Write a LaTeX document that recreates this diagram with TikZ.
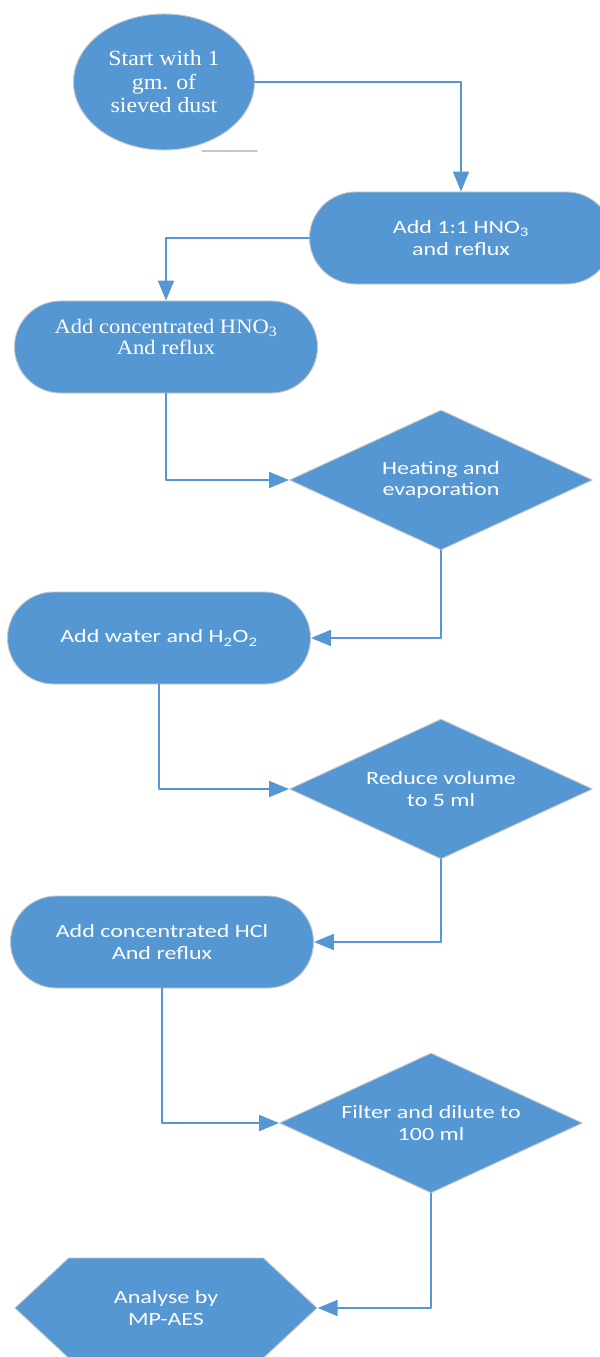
\documentclass[tikz,border=0pt]{standalone}
\usepackage{fontspec}
\usepackage{xcolor}
\usepackage{tikz}
\usetikzlibrary{arrows.meta}
\usetikzlibrary{shapes.geometric,shapes.misc,shapes.symbols}
\newfontfamily\boxsans[FakeStretch=1.28]{Carlito}
\newfontfamily\boxserif[FakeStretch=1.1]{Liberation Serif}
\definecolor{ffblue}{rgb}{0.329,0.592,0.827}
\definecolor{ccgray}{rgb}{0.78,0.78,0.78}
\tikzstyle{every node}=[text=white,align=center,inner sep=0pt]
\tikzstyle{flowbox}=[fill=ffblue,draw=ccgray,line width=0.8pt]
\tikzstyle{startnode}=[flowbox,ellipse,minimum width=5.43cm,minimum height=4.08cm,font=\boxserif\fontsize{18.5}{20}\selectfont]
\tikzstyle{stepbox}=[flowbox,rounded rectangle,minimum width=9.09cm,minimum height=2.76cm,font=\boxsans\fontsize{16}{18.5}\selectfont]
\tikzstyle{decision}=[flowbox,diamond,aspect=2.16,minimum width=9.09cm,minimum height=4.2cm,font=\boxsans\fontsize{16}{18.5}\selectfont]
\tikzstyle{endnode}=[flowbox,signal,signal from=nowhere,signal to=west and east,signal pointer angle=86,minimum width=9.06cm,minimum height=3cm,font=\boxsans\fontsize{16}{18.5}\selectfont]
\tikzstyle{flowline}=[->,line width=2pt,color=ffblue]

\begin{document}
\begin{tikzpicture}[line cap=round,line join=round,>={Triangle[length=17pt,width=13.5pt]},x=0.03cm,y=-0.03cm]
    \useasboundingbox (0,0) rectangle (600,1357);
    % nodes
    \node[startnode] (start) at (164,82) {Start with 1\\gm. of\\sieved dust};
    \draw[ccgray,line width=1pt] (202,151) -- (257,151);
    \node[stepbox] (addhno) at (461,238) {Add 1:1 HNO\textsubscript{3}\\and reflux};
    \node[stepbox,font=\boxserif\fontsize{17.5}{18}\selectfont] (conchno) at (166,347) {Add concentrated HNO\textsubscript{3}\\And reflux\\\mbox{}};
    \node[decision] (heat) at (441,480) {Heating and\\evaporation};
    \node[stepbox] (water) at (159,638) {Add water and H\textsubscript{2}O\textsubscript{2}};
    \node[decision] (reduce) at (441,789) {Reduce volume\\to 5 ml};
    \node[stepbox] (conchcl) at (162,942) {Add concentrated HCl\\And reflux};
    \node[decision] (filter) at (431,1123) {Filter and dilute to\\100 ml};
    \node[endnode] (analyse) at (166,1308) {Analyse by\\MP-AES};
    % connectors
    \draw[flowline] (start.east) -| (addhno.north);
    \draw[flowline] (addhno.west) -| (conchno.north);
    \draw[flowline] (conchno.south) |- (heat.west);
    \draw[flowline] (heat.south) |- (water.east);
    \draw[flowline] (water.south) |- (reduce.west);
    \draw[flowline] (reduce.south) |- (conchcl.east);
    \draw[flowline] (conchcl.south) |- (filter.west);
    \draw[flowline] (filter.south) |- (analyse.east);
\end{tikzpicture}
\end{document}
